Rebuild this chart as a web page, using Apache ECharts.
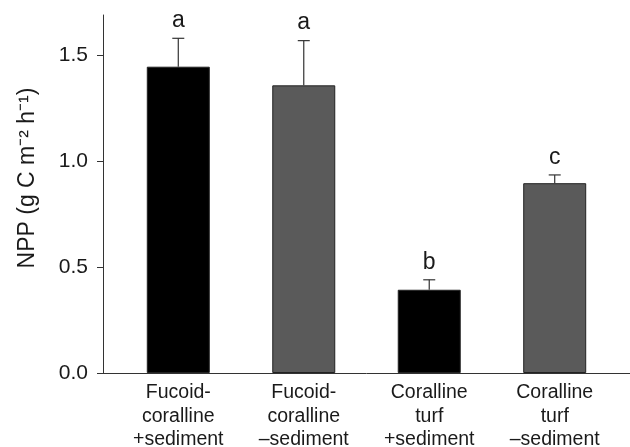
<!DOCTYPE html>
<html>
<head>
<meta charset="utf-8">
<script src="https://cdn.jsdelivr.net/npm/echarts@6/dist/echarts.min.js"></script>
<style>
html,body{margin:0;padding:0;background:#fff;}
#c{width:630px;height:447px;}
</style>
</head>
<body>
<div id="c"></div>
<script>
var categories = ['Fucoid-\ncoralline\n+sediment', 'Fucoid-\ncoralline\n\u2013sediment', 'Coralline\nturf\n+sediment', 'Coralline\nturf\n\u2013sediment'];
var positions = [1, 2, 3, 4];
var nppMean = [1.446, 1.358, 0.393, 0.896];
var nppSE = [0.134, 0.211, 0.047, 0.039];
var letters = ['a', 'a', 'b', 'c'];
var yTicks = [0, 0.5, 1.0, 1.5];

var FONT = '"Liberation Sans", Arial, sans-serif';
var chart = echarts.init(document.getElementById('c'), null, {renderer: 'canvas'});

var barData = positions.map(function (p, i) { return [p, nppMean[i]]; });
var errData = positions.map(function (p, i) { return [p, nppMean[i], nppMean[i] + nppSE[i], i]; });

chart.setOption({
  animation: false,
  grid: {left: 103, right: 0, top: 15, bottom: 74, containLabel: false, outerBoundsMode: 'none'},
  xAxis: {
    type: 'value', min: 0.4, max: 4.6,
    splitLine: {show: false},
    axisLine: {show: true, lineStyle: {color: '#333', width: 1}},
    axisTick: {show: false},
    axisLabel: {
      show: true, customValues: positions, margin: 8,
      color: '#1a1a1a', fontFamily: FONT, fontSize: 19.5, lineHeight: 23.5,
      formatter: function (v) { var i = positions.indexOf(v); return i >= 0 ? categories[i] : ''; }
    }
  },
  yAxis: {
    type: 'value', min: 0, max: 1.69,
    splitLine: {show: false},
    axisLine: {show: true, lineStyle: {color: '#333', width: 1}},
    axisTick: {show: true, inside: false, length: 6, customValues: yTicks, lineStyle: {color: '#333'}},
    axisLabel: {
      customValues: yTicks, margin: 15, color: '#1a1a1a', fontFamily: FONT, fontSize: 21,
      formatter: function (v) { return v.toFixed(1); }
    }
  },
  graphic: [{
    type: 'text', x: 28, y: 178, rotation: Math.PI / 2,
    style: {text: 'NPP (g C m\u207B\u00B2 h\u207B\u00B9)', fill: '#1a1a1a', font: '23px ' + FONT, align: 'center', verticalAlign: 'middle'}
  }],
  series: [{
    type: 'bar', data: barData, barWidth: 63,
    itemStyle: {
      color: function (p) { return p.dataIndex % 2 === 0 ? '#000000' : '#5a5a5a'; },
      borderColor: '#222', borderWidth: 1
    }
  }, {
    type: 'custom', data: errData,
    renderItem: function (params, api) {
      var x = api.value(0);
      var lo = api.coord([x, api.value(1)]);
      var hi = api.coord([x, api.value(2)]);
      var idx = api.value(3);
      var cap = 6;
      return {
        type: 'group',
        children: [{
          type: 'line', shape: {x1: lo[0], y1: lo[1], x2: hi[0], y2: hi[1]},
          style: {stroke: '#333', lineWidth: 1.2}
        }, {
          type: 'line', shape: {x1: hi[0] - cap, y1: hi[1], x2: hi[0] + cap, y2: hi[1]},
          style: {stroke: '#333', lineWidth: 1.2}
        }, {
          type: 'text', x: hi[0], y: hi[1] - 6,
          style: {text: letters[idx], fill: '#1a1a1a', font: '23px ' + FONT, align: 'center', verticalAlign: 'bottom'}
        }]
      };
    },
    z: 3
  }]
});
</script>
</body>
</html>
